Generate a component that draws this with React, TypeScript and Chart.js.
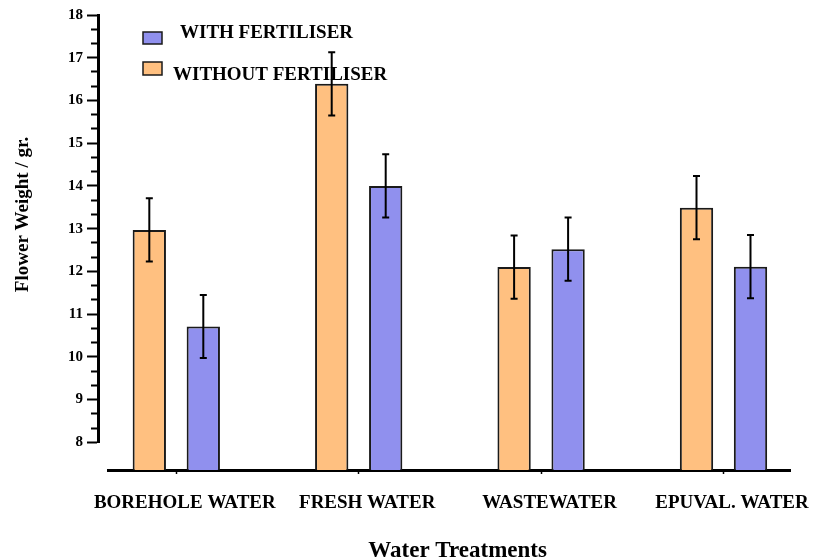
import React, { useEffect, useRef } from 'react';
import { Chart, registerables } from 'chart.js';

Chart.register(...registerables);

// ---- data ----
const categories = ['BOREHOLE WATER', 'FRESH WATER', 'WASTEWATER', 'EPUVAL. WATER'];
const withoutFertiliser = [12.97, 16.39, 12.1, 13.49];
const withoutFertiliserErr = [0.74, 0.74, 0.74, 0.74];
const withFertiliser = [10.71, 14.0, 12.52, 12.11];
const withFertiliserErr = [0.74, 0.74, 0.74, 0.74];
const seriesLabels = ['WITHOUT FERTILISER', 'WITH FERTILISER'];
const yMin = 8;
const yMax = 18;
const barBase = 7.352;
const yTitle = '\u00A0\u00A0\u00A0\u00A0\u00A0\u00A0Flower Weight / gr.';
const xTitle = '\u00A0\u00A0\u00A0Water Treatments';

const ORANGE = 'rgb(255,192,128)';
const BLUE = 'rgb(144,144,238)';
const FONT = '"Liberation Serif", "Times New Roman", serif';

const isInt = (v: number) => Math.abs(v - Math.round(v)) < 1e-6;

const errorBarPlugin = {
  id: 'errorBars',
  afterDatasetsDraw(chart: any) {
    const ctx = chart.ctx;
    ctx.save();
    ctx.strokeStyle = '#000';
    chart.data.datasets.forEach((ds: any, di: number) => {
      const meta = chart.getDatasetMeta(di);
      const yScale = chart.scales[meta.yAxisID];
      meta.data.forEach((bar: any, i: number) => {
        const v = ds.data[i].y;
        const e = ds.errorBars[i];
        const top = yScale.getPixelForValue(v + e);
        const bot = yScale.getPixelForValue(v - e);
        ctx.lineWidth = 2;
        ctx.beginPath();
        ctx.moveTo(bar.x, top);
        ctx.lineTo(bar.x, bot);
        ctx.stroke();
        ctx.beginPath();
        ctx.moveTo(bar.x - 3.5, top);
        ctx.lineTo(bar.x + 3.5, top);
        ctx.moveTo(bar.x - 3.5, bot);
        ctx.lineTo(bar.x + 3.5, bot);
        ctx.stroke();
      });
    });
    ctx.restore();
  },
};

const cornerLegendPlugin = {
  id: 'cornerLegend',
  afterDraw(chart: any) {
    const ctx = chart.ctx;
    const ds = chart.data.datasets;
    const items = [
      { d: ds[1], bx: 143, by: 32, bw: 19, bh: 12, tx: 180, ty: 37.5 },
      { d: ds[0], bx: 143, by: 62, bw: 19, bh: 13, tx: 173, ty: 80 },
    ];
    ctx.save();
    items.forEach((it) => {
      ctx.fillStyle = it.d.backgroundColor;
      ctx.fillRect(it.bx, it.by, it.bw, it.bh);
      ctx.lineWidth = 1.5;
      ctx.strokeStyle = '#1a1a1a';
      ctx.strokeRect(it.bx, it.by, it.bw, it.bh);
      ctx.fillStyle = '#000';
      ctx.font = `bold 19px ${FONT}`;
      ctx.textBaseline = 'alphabetic';
      ctx.textAlign = 'left';
      ctx.fillText(it.d.label, it.tx, it.ty);
    });
    ctx.restore();
  },
};

export default function App() {
  const canvasRef = useRef<HTMLCanvasElement | null>(null);

  useEffect(() => {
    document.body.style.margin = '0';
    document.body.style.overflow = 'hidden';
    const canvas = canvasRef.current;
    if (!canvas) return;
    const chart = new Chart(canvas, {
      type: 'bar',
      data: {
        datasets: [
          {
            label: seriesLabels[0],
            data: withoutFertiliser.map((y, i) => ({ x: i, y })),
            errorBars: withoutFertiliserErr,
            backgroundColor: ORANGE,
            borderColor: '#1a1a1a',
            borderWidth: 2,
            base: barBase,
            clip: false,
            xAxisID: 'x',
            yAxisID: 'y',
          } as any,
          {
            label: seriesLabels[1],
            data: withFertiliser.map((y, i) => ({ x: i, y })),
            errorBars: withFertiliserErr,
            backgroundColor: BLUE,
            borderColor: '#1a1a1a',
            borderWidth: 2,
            base: barBase,
            clip: false,
            xAxisID: 'x',
            yAxisID: 'y',
          } as any,
        ],
      },
      options: {
        responsive: false,
        maintainAspectRatio: false,
        animation: false,
        events: [],
        categoryPercentage: 0.592,
        barPercentage: 0.617,
        layout: { padding: { left: 0, right: 33, top: 15, bottom: 0 } },
        plugins: {
          legend: { display: false },
          tooltip: { enabled: false },
        },
        scales: {
          x: {
            type: 'linear',
            position: 'bottom',
            weight: 2,
            z: 1,
            offset: false,
            min: -0.3745,
            max: 3.3646,
            afterBuildTicks: (s: any) => {
              s.ticks = categories.map((_, i) => ({ value: i }));
            },
            afterFit: (s: any) => {
              s.height = 88;
            },
            ticks: {
              autoSkip: false,
              maxRotation: 0,
              minRotation: 0,
              padding: 18,
              labelOffset: 8.5,
              color: '#000',
              font: { family: FONT, size: 19, weight: 'bold' },
              callback: (v: any) => categories[Math.round(v)] ?? '',
            },
            grid: {
              display: true,
              offset: false,
              drawOnChartArea: false,
              drawTicks: true,
              tickLength: 4,
              tickWidth: 1.5,
              tickColor: '#000',
            },
            border: { display: true, color: '#000', width: 3 },
            title: {
              display: true,
              text: xTitle,
              color: '#000',
              font: { family: FONT, size: 23, weight: 'bold', lineHeight: 0.6 },
              padding: { top: 0, bottom: 0 },
            },
          },
          gapX: {
            type: 'linear',
            position: 'bottom',
            weight: 1,
            display: true,
            afterFit: (s: any) => {
              s.height = 27.7;
            },
            ticks: { display: false },
            grid: { display: false },
            border: { display: false },
          },
          y: {
            type: 'linear',
            position: 'left',
            weight: 2,
            min: yMin,
            max: yMax,
            afterFit: (s: any) => {
              s.width = 98;
            },
            ticks: {
              stepSize: 1 / 3,
              autoSkip: false,
              padding: 4,
              color: '#000',
              font: { family: FONT, size: 15, weight: 'bold' },
              callback: (v: any) => (isInt(v) ? String(Math.round(v)) : ''),
            },
            grid: {
              display: true,
              drawOnChartArea: false,
              drawTicks: true,
              tickLength: 11,
              tickWidth: 2,
              tickColor: '#000',
              tickBorderDash: (ctx: any) =>
                ctx.tick && !isInt(ctx.tick.value) ? [0, 4, 20, 0] : [],
            },
            border: { display: true, color: '#000', width: 3 },
            title: {
              display: true,
              text: yTitle,
              color: '#000',
              font: { family: FONT, size: 19, weight: 'bold' },
              padding: { top: 12, bottom: 0 },
            },
          },
          gapY: {
            type: 'linear',
            position: 'left',
            weight: 1,
            display: true,
            afterFit: (s: any) => {
              s.width = 10;
            },
            ticks: { display: false },
            grid: { display: false },
            border: { display: false },
          },
        },
      } as any,
      plugins: [errorBarPlugin, cornerLegendPlugin],
    });
    return () => chart.destroy();
  }, []);

  return (
    <div style={{ width: 823, height: 558 }}>
      <canvas ref={canvasRef} width={823} height={558} style={{ display: 'block' }} />
    </div>
  );
}
